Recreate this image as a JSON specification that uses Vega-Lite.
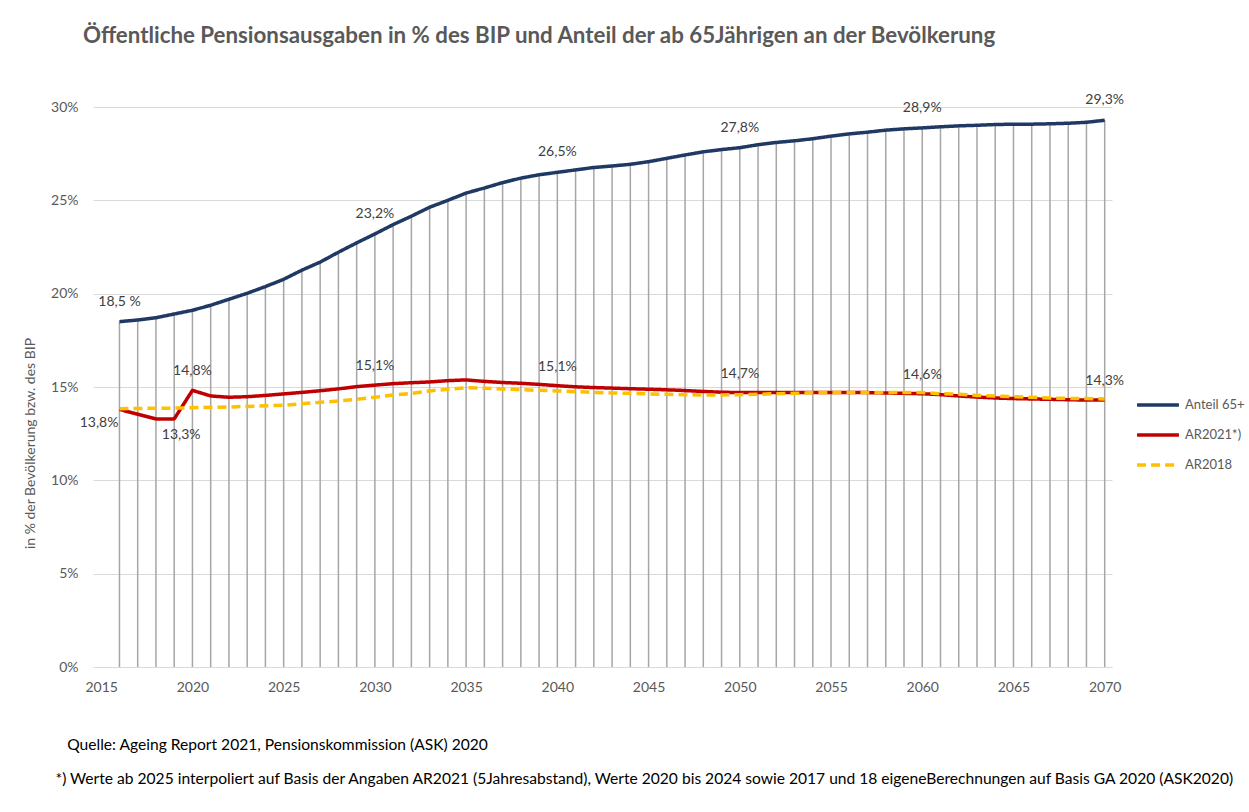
{
  "$schema": "https://vega.github.io/schema/vega-lite/v6.json",
  "width": 1019,
  "height": 560,
  "autosize": "none",
  "padding": {"left": 93, "top": 107, "right": 137, "bottom": 145},
  "background": "white",
  "config": {
    "view": {"stroke": null},
    "font": "Lato",
    "axis": {"labelFont": "Lato", "titleFont": "Lato"}
  },
  "title": {
    "text": "Öffentliche Pensionsausgaben in % des BIP und Anteil der ab 65Jährigen an der Bevölkerung",
    "anchor": "start",
    "frame": "group",
    "dx": -10,
    "offset": 46,
    "font": "Lato",
    "fontSize": 22.3,
    "fontWeight": "bold",
    "color": "#595959"
  },
  "data": {
    "values": [
      {"year": 2016, "series": "Anteil 65+", "value": 18.5, "label": "18,5 %"},
      {"year": 2017, "series": "Anteil 65+", "value": 18.59},
      {"year": 2018, "series": "Anteil 65+", "value": 18.71},
      {"year": 2019, "series": "Anteil 65+", "value": 18.91},
      {"year": 2020, "series": "Anteil 65+", "value": 19.11},
      {"year": 2021, "series": "Anteil 65+", "value": 19.38},
      {"year": 2022, "series": "Anteil 65+", "value": 19.7},
      {"year": 2023, "series": "Anteil 65+", "value": 20.02},
      {"year": 2024, "series": "Anteil 65+", "value": 20.38},
      {"year": 2025, "series": "Anteil 65+", "value": 20.77},
      {"year": 2026, "series": "Anteil 65+", "value": 21.26},
      {"year": 2027, "series": "Anteil 65+", "value": 21.69},
      {"year": 2028, "series": "Anteil 65+", "value": 22.22},
      {"year": 2029, "series": "Anteil 65+", "value": 22.72},
      {"year": 2030, "series": "Anteil 65+", "value": 23.2, "label": "23,2%"},
      {"year": 2031, "series": "Anteil 65+", "value": 23.7},
      {"year": 2032, "series": "Anteil 65+", "value": 24.15},
      {"year": 2033, "series": "Anteil 65+", "value": 24.63},
      {"year": 2034, "series": "Anteil 65+", "value": 25.0},
      {"year": 2035, "series": "Anteil 65+", "value": 25.39},
      {"year": 2036, "series": "Anteil 65+", "value": 25.66},
      {"year": 2037, "series": "Anteil 65+", "value": 25.95},
      {"year": 2038, "series": "Anteil 65+", "value": 26.19},
      {"year": 2039, "series": "Anteil 65+", "value": 26.37},
      {"year": 2040, "series": "Anteil 65+", "value": 26.5, "label": "26,5%"},
      {"year": 2041, "series": "Anteil 65+", "value": 26.63},
      {"year": 2042, "series": "Anteil 65+", "value": 26.76},
      {"year": 2043, "series": "Anteil 65+", "value": 26.84},
      {"year": 2044, "series": "Anteil 65+", "value": 26.93},
      {"year": 2045, "series": "Anteil 65+", "value": 27.07},
      {"year": 2046, "series": "Anteil 65+", "value": 27.25},
      {"year": 2047, "series": "Anteil 65+", "value": 27.43},
      {"year": 2048, "series": "Anteil 65+", "value": 27.6},
      {"year": 2049, "series": "Anteil 65+", "value": 27.72},
      {"year": 2050, "series": "Anteil 65+", "value": 27.82, "label": "27,8%"},
      {"year": 2051, "series": "Anteil 65+", "value": 27.98},
      {"year": 2052, "series": "Anteil 65+", "value": 28.1},
      {"year": 2053, "series": "Anteil 65+", "value": 28.19},
      {"year": 2054, "series": "Anteil 65+", "value": 28.3},
      {"year": 2055, "series": "Anteil 65+", "value": 28.44},
      {"year": 2056, "series": "Anteil 65+", "value": 28.56},
      {"year": 2057, "series": "Anteil 65+", "value": 28.65},
      {"year": 2058, "series": "Anteil 65+", "value": 28.76},
      {"year": 2059, "series": "Anteil 65+", "value": 28.83},
      {"year": 2060, "series": "Anteil 65+", "value": 28.88, "label": "28,9%"},
      {"year": 2061, "series": "Anteil 65+", "value": 28.94},
      {"year": 2062, "series": "Anteil 65+", "value": 28.99},
      {"year": 2063, "series": "Anteil 65+", "value": 29.02},
      {"year": 2064, "series": "Anteil 65+", "value": 29.06},
      {"year": 2065, "series": "Anteil 65+", "value": 29.08},
      {"year": 2066, "series": "Anteil 65+", "value": 29.08},
      {"year": 2067, "series": "Anteil 65+", "value": 29.1},
      {"year": 2068, "series": "Anteil 65+", "value": 29.13},
      {"year": 2069, "series": "Anteil 65+", "value": 29.18},
      {"year": 2070, "series": "Anteil 65+", "value": 29.29, "label": "29,3%"},

      {"year": 2016, "series": "AR2021*)", "value": 13.8, "label": "13,8%"},
      {"year": 2017, "series": "AR2021*)", "value": 13.54},
      {"year": 2018, "series": "AR2021*)", "value": 13.29},
      {"year": 2019, "series": "AR2021*)", "value": 13.29, "label": "13,3%"},
      {"year": 2020, "series": "AR2021*)", "value": 14.82, "label": "14,8%"},
      {"year": 2021, "series": "AR2021*)", "value": 14.52},
      {"year": 2022, "series": "AR2021*)", "value": 14.45},
      {"year": 2023, "series": "AR2021*)", "value": 14.48},
      {"year": 2024, "series": "AR2021*)", "value": 14.55},
      {"year": 2025, "series": "AR2021*)", "value": 14.63},
      {"year": 2026, "series": "AR2021*)", "value": 14.71},
      {"year": 2027, "series": "AR2021*)", "value": 14.8},
      {"year": 2028, "series": "AR2021*)", "value": 14.9},
      {"year": 2029, "series": "AR2021*)", "value": 15.02},
      {"year": 2030, "series": "AR2021*)", "value": 15.1, "label": "15,1%"},
      {"year": 2031, "series": "AR2021*)", "value": 15.18},
      {"year": 2032, "series": "AR2021*)", "value": 15.23},
      {"year": 2033, "series": "AR2021*)", "value": 15.27},
      {"year": 2034, "series": "AR2021*)", "value": 15.34},
      {"year": 2035, "series": "AR2021*)", "value": 15.38},
      {"year": 2036, "series": "AR2021*)", "value": 15.3},
      {"year": 2037, "series": "AR2021*)", "value": 15.24},
      {"year": 2038, "series": "AR2021*)", "value": 15.2},
      {"year": 2039, "series": "AR2021*)", "value": 15.14},
      {"year": 2040, "series": "AR2021*)", "value": 15.07, "label": "15,1%"},
      {"year": 2041, "series": "AR2021*)", "value": 15.01},
      {"year": 2042, "series": "AR2021*)", "value": 14.97},
      {"year": 2043, "series": "AR2021*)", "value": 14.94},
      {"year": 2044, "series": "AR2021*)", "value": 14.91},
      {"year": 2045, "series": "AR2021*)", "value": 14.88},
      {"year": 2046, "series": "AR2021*)", "value": 14.85},
      {"year": 2047, "series": "AR2021*)", "value": 14.81},
      {"year": 2048, "series": "AR2021*)", "value": 14.76},
      {"year": 2049, "series": "AR2021*)", "value": 14.72},
      {"year": 2050, "series": "AR2021*)", "value": 14.7, "label": "14,7%"},
      {"year": 2051, "series": "AR2021*)", "value": 14.7},
      {"year": 2052, "series": "AR2021*)", "value": 14.7},
      {"year": 2053, "series": "AR2021*)", "value": 14.71},
      {"year": 2054, "series": "AR2021*)", "value": 14.71},
      {"year": 2055, "series": "AR2021*)", "value": 14.71},
      {"year": 2056, "series": "AR2021*)", "value": 14.7},
      {"year": 2057, "series": "AR2021*)", "value": 14.7},
      {"year": 2058, "series": "AR2021*)", "value": 14.68},
      {"year": 2059, "series": "AR2021*)", "value": 14.66},
      {"year": 2060, "series": "AR2021*)", "value": 14.64, "label": "14,6%"},
      {"year": 2061, "series": "AR2021*)", "value": 14.59},
      {"year": 2062, "series": "AR2021*)", "value": 14.52},
      {"year": 2063, "series": "AR2021*)", "value": 14.46},
      {"year": 2064, "series": "AR2021*)", "value": 14.41},
      {"year": 2065, "series": "AR2021*)", "value": 14.38},
      {"year": 2066, "series": "AR2021*)", "value": 14.36},
      {"year": 2067, "series": "AR2021*)", "value": 14.34},
      {"year": 2068, "series": "AR2021*)", "value": 14.32},
      {"year": 2069, "series": "AR2021*)", "value": 14.3},
      {"year": 2070, "series": "AR2021*)", "value": 14.3, "label": "14,3%"},

      {"year": 2016, "series": "AR2018", "value": 13.84},
      {"year": 2017, "series": "AR2018", "value": 13.85},
      {"year": 2018, "series": "AR2018", "value": 13.86},
      {"year": 2019, "series": "AR2018", "value": 13.87},
      {"year": 2020, "series": "AR2018", "value": 13.89},
      {"year": 2021, "series": "AR2018", "value": 13.91},
      {"year": 2022, "series": "AR2018", "value": 13.93},
      {"year": 2023, "series": "AR2018", "value": 13.96},
      {"year": 2024, "series": "AR2018", "value": 13.99},
      {"year": 2025, "series": "AR2018", "value": 14.02},
      {"year": 2026, "series": "AR2018", "value": 14.1},
      {"year": 2027, "series": "AR2018", "value": 14.18},
      {"year": 2028, "series": "AR2018", "value": 14.25},
      {"year": 2029, "series": "AR2018", "value": 14.34},
      {"year": 2030, "series": "AR2018", "value": 14.45},
      {"year": 2031, "series": "AR2018", "value": 14.57},
      {"year": 2032, "series": "AR2018", "value": 14.66},
      {"year": 2033, "series": "AR2018", "value": 14.79},
      {"year": 2034, "series": "AR2018", "value": 14.88},
      {"year": 2035, "series": "AR2018", "value": 14.96},
      {"year": 2036, "series": "AR2018", "value": 14.93},
      {"year": 2037, "series": "AR2018", "value": 14.89},
      {"year": 2038, "series": "AR2018", "value": 14.86},
      {"year": 2039, "series": "AR2018", "value": 14.82},
      {"year": 2040, "series": "AR2018", "value": 14.79},
      {"year": 2041, "series": "AR2018", "value": 14.75},
      {"year": 2042, "series": "AR2018", "value": 14.71},
      {"year": 2043, "series": "AR2018", "value": 14.68},
      {"year": 2044, "series": "AR2018", "value": 14.66},
      {"year": 2045, "series": "AR2018", "value": 14.63},
      {"year": 2046, "series": "AR2018", "value": 14.61},
      {"year": 2047, "series": "AR2018", "value": 14.59},
      {"year": 2048, "series": "AR2018", "value": 14.57},
      {"year": 2049, "series": "AR2018", "value": 14.57},
      {"year": 2050, "series": "AR2018", "value": 14.59},
      {"year": 2051, "series": "AR2018", "value": 14.61},
      {"year": 2052, "series": "AR2018", "value": 14.64},
      {"year": 2053, "series": "AR2018", "value": 14.66},
      {"year": 2054, "series": "AR2018", "value": 14.7},
      {"year": 2055, "series": "AR2018", "value": 14.71},
      {"year": 2056, "series": "AR2018", "value": 14.71},
      {"year": 2057, "series": "AR2018", "value": 14.71},
      {"year": 2058, "series": "AR2018", "value": 14.71},
      {"year": 2059, "series": "AR2018", "value": 14.71},
      {"year": 2060, "series": "AR2018", "value": 14.7},
      {"year": 2061, "series": "AR2018", "value": 14.64},
      {"year": 2062, "series": "AR2018", "value": 14.61},
      {"year": 2063, "series": "AR2018", "value": 14.55},
      {"year": 2064, "series": "AR2018", "value": 14.52},
      {"year": 2065, "series": "AR2018", "value": 14.48},
      {"year": 2066, "series": "AR2018", "value": 14.45},
      {"year": 2067, "series": "AR2018", "value": 14.41},
      {"year": 2068, "series": "AR2018", "value": 14.39},
      {"year": 2069, "series": "AR2018", "value": 14.38},
      {"year": 2070, "series": "AR2018", "value": 14.36}
    ]
  },
  "encoding": {
    "x": {
      "field": "year",
      "type": "quantitative",
      "scale": {"domain": [2014.55, 2070.4], "nice": false, "zero": false},
      "axis": {
        "values": [2015, 2020, 2025, 2030, 2035, 2040, 2045, 2050, 2055, 2060, 2065, 2070],
        "format": "d",
        "grid": false,
        "ticks": false,
        "domainColor": "#D9D9D9",
        "domainWidth": 1,
        "labelPadding": 13,
        "labelFontSize": 14,
        "labelColor": "#595959",
        "title": ["\u200b\u2003Quelle: Ageing Report 2021, Pensionskommission (ASK) 2020", "*) Werte ab 2025 interpoliert auf Basis der Angaben AR2021 (5Jahresabstand), Werte 2020 bis 2024 sowie 2017 und 18 eigeneBerechnungen auf Basis GA 2020 (ASK2020)"],
        "titleFontSize": 15.6,
        "titleFontWeight": "normal",
        "titleColor": "#000000",
        "titleAlign": "left",
        "titleAnchor": "start",
        "titleBaseline": "top",
        "titleX": -38,
        "titleY": 70,
        "titleLineHeight": 34
      }
    },
    "y": {
      "field": "value",
      "type": "quantitative",
      "scale": {"domain": [0, 30], "nice": false},
      "axis": {
        "values": [0, 5, 10, 15, 20, 25, 30],
        "labelExpr": "datum.value + '%'",
        "domain": false,
        "ticks": false,
        "gridColor": "#D9D9D9",
        "gridWidth": 1,
        "labelPadding": 15,
        "labelFontSize": 14,
        "labelColor": "#595959",
        "title": "in % der Bevölkerung bzw. des BIP",
        "titleFontSize": 14,
        "titleFontWeight": "normal",
        "titleColor": "#595959",
        "titleX": -63,
        "titleY": 336,
        "titleAlign": "center",
        "titleBaseline": "middle",
        "titleAngle": -90
      }
    }
  },
  "layer": [
    {
      "transform": [{"filter": "datum.series === 'Anteil 65+'"}],
      "mark": {"type": "rule", "color": "#A6A6A6", "strokeWidth": 1.5},
      "encoding": {"y2": {"datum": 0}}
    },
    {
      "mark": {"type": "line", "strokeWidth": 3.5, "strokeJoin": "round", "strokeCap": "butt"},
      "encoding": {
        "color": {
          "field": "series",
          "type": "nominal",
          "scale": {"domain": ["Anteil 65+", "AR2021*)", "AR2018"], "range": ["#203864", "#C00000", "#FFC000"]},
          "legend": {
            "orient": "none",
            "legendX": 1042,
            "legendY": 275,
            "title": null,
            "symbolType": "stroke",
            "symbolSize": 1750,
            "symbolStrokeWidth": 3.5,
            "labelFont": "Lato",
            "labelFontSize": 13,
            "labelColor": "#595959",
            "labelOffset": 4,
            "rowPadding": -18,
            "padding": 0
          }
        },
        "strokeDash": {
          "field": "series",
          "type": "nominal",
          "scale": {"domain": ["Anteil 65+", "AR2021*)", "AR2018"], "range": [[1, 0], [1, 0], [9, 5]]},
          "legend": {
            "orient": "none",
            "legendX": 1042,
            "legendY": 275,
            "title": null
          }
        },
        "order": {"field": "year", "type": "quantitative"}
      }
    },
    {
      "transform": [{"filter": "datum.series === 'Anteil 65+' && datum.label != null"}],
      "mark": {"type": "text", "dy": -20, "font": "Lato", "fontSize": 14, "color": "#404040", "baseline": "middle"},
      "encoding": {"text": {"field": "label"}}
    },
    {
      "transform": [{"filter": "datum.series === 'AR2021*)' && datum.label != null && datum.year >= 2020"}],
      "mark": {"type": "text", "dy": -19, "font": "Lato", "fontSize": 14, "color": "#404040", "baseline": "middle"},
      "encoding": {"text": {"field": "label"}}
    },
    {
      "transform": [{"filter": "datum.series === 'AR2021*)' && datum.year === 2016"}],
      "mark": {"type": "text", "dx": -1, "dy": 14, "align": "right", "font": "Lato", "fontSize": 14, "color": "#404040", "baseline": "middle"},
      "encoding": {"text": {"field": "label"}}
    },
    {
      "transform": [{"filter": "datum.series === 'AR2021*)' && datum.year === 2019"}],
      "mark": {"type": "text", "dx": 7, "dy": 16, "font": "Lato", "fontSize": 14, "color": "#404040", "baseline": "middle"},
      "encoding": {"text": {"field": "label"}}
    }
  ]
}
